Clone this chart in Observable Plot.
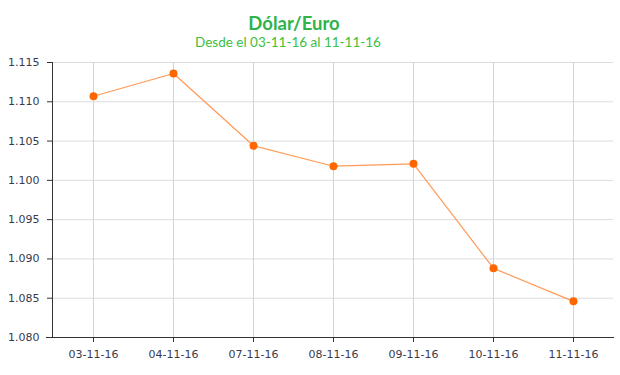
<!DOCTYPE html>
<html>
<head>
<meta charset="utf-8">
<script src="https://cdn.jsdelivr.net/npm/d3@7"></script>
<script src="https://cdn.jsdelivr.net/npm/@observablehq/plot@0.6"></script>
<style>
  body { margin: 0; background: #fff; }
  #wrap { width: 620px; }
  .title { font-family: Lato, "Noto Sans", sans-serif; font-weight: bold; font-size: 18.5px; color: #2fb34a; text-align: center; height: 32px; line-height: 30px; padding-top: 8px; padding-right: 32px; box-sizing: border-box; }
  .subtitle { font-family: Lato, "Noto Sans", sans-serif; font-size: 13.5px; color: #3cbf3c; text-align: center; height: 18px; line-height: 20px; padding-right: 44px; }
</style>
</head>
<body>
<div id="wrap">
  <div class="title">Dólar/Euro</div>
  <div class="subtitle">Desde el 03-11-16 al 11-11-16</div>
  <div id="chart"></div>
</div>
<script>
const dates = ["03-11-16", "04-11-16", "07-11-16", "08-11-16", "09-11-16", "10-11-16", "11-11-16"];
const values = [1.1107, 1.1136, 1.1044, 1.1018, 1.1021, 1.0888, 1.0846];
const yTicks = [1.080, 1.085, 1.090, 1.095, 1.100, 1.105, 1.110, 1.115];

const data = dates.map((d, i) => ({date: d, value: values[i]}));

const chart = Plot.plot({
  width: 620,
  height: 325,
  marginLeft: 52,
  marginRight: 7,
  marginTop: 12,
  marginBottom: 38,
  style: { fontFamily: "'DejaVu Sans', Verdana, sans-serif", fontSize: "11px", color: "#3a3a4a", background: "#fff", overflow: "visible" },
  x: { type: "point", domain: dates, padding: 0.5, label: null },
  y: { domain: [1.080, 1.115], label: null },
  marks: [
    Plot.gridY(yTicks, { stroke: "#dcdcdc", strokeOpacity: 1 }),
    Plot.gridX(dates, { stroke: "#d4d4d4", strokeOpacity: 1 }),
    Plot.axisY(yTicks, { tickSize: 5, tickPadding: 8, tickFormat: d3.format(".3f"), stroke: "#333", fill: "#3a3a4a", label: null }),
    Plot.axisX(dates, { tickSize: 5, tickPadding: 8, stroke: "#333", fill: "#3a3a4a", label: null }),
    Plot.frame({ anchor: "left", stroke: "#333" }),
    Plot.frame({ anchor: "bottom", stroke: "#333", insetLeft: -6 }),
    Plot.line(data, { x: "date", y: "value", stroke: "#ff9a55", strokeWidth: 1.2 }),
    Plot.dot(data, { x: "date", y: "value", r: 4, fill: "#ff6600", stroke: "none" })
  ]
});
document.getElementById("chart").appendChild(chart);
</script>
</body>
</html>
